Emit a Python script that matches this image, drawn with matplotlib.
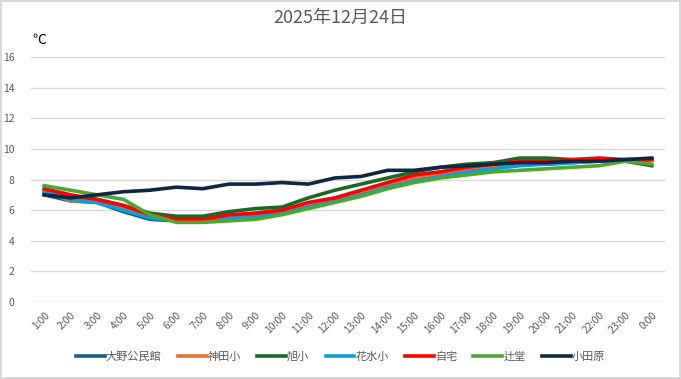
import matplotlib
matplotlib.use('Agg')
import matplotlib.pyplot as plt
import numpy as np

plt.rcParams['font.family'] = ['Noto Sans CJK JP', 'DejaVu Sans']

hours = ['1:00', '2:00', '3:00', '4:00', '5:00', '6:00', '7:00', '8:00', '9:00', '10:00',
         '11:00', '12:00', '13:00', '14:00', '15:00', '16:00', '17:00', '18:00', '19:00',
         '20:00', '21:00', '22:00', '23:00', '0:00']

ono = [7.0, 6.6, 6.5, 5.9, 5.4, 5.3, 5.3, 5.6, 5.7, 5.9, 6.3, 6.7, 7.1, 7.6, 8.0, 8.3,
       8.6, 8.8, 9.0, 9.0, 9.1, 9.2, 9.3, 9.3]
kanda = [7.3, 6.6, 6.6, 6.1, 5.6, 5.4, 5.4, 5.6, 5.8, 6.0, 6.4, 6.7, 7.2, 7.7, 8.1, 8.4,
         8.7, 8.9, 9.1, 9.2, 9.2, 9.3, 9.2, 9.3]
asahi = [7.2, 6.9, 6.7, 6.3, 5.8, 5.6, 5.6, 5.9, 6.1, 6.2, 6.8, 7.3, 7.7, 8.1, 8.5, 8.8,
         9.0, 9.1, 9.4, 9.4, 9.3, 9.3, 9.2, 8.9]
hanamizu = [7.2, 6.7, 6.5, 6.0, 5.5, 5.3, 5.3, 5.5, 5.6, 5.8, 6.2, 6.6, 7.0, 7.5, 7.9, 8.2,
            8.5, 8.7, 8.9, 9.0, 9.1, 9.2, 9.2, 9.3]
jitaku = [7.4, 7.0, 6.7, 6.3, 5.7, 5.4, 5.4, 5.7, 5.8, 6.0, 6.5, 6.8, 7.3, 7.8, 8.3, 8.5,
          8.8, 9.0, 9.2, 9.2, 9.3, 9.4, 9.3, 9.3]
tsujido = [7.6, 7.3, 7.0, 6.7, 5.7, 5.2, 5.2, 5.3, 5.4, 5.7, 6.1, 6.5, 6.9, 7.4, 7.8, 8.1,
           8.3, 8.5, 8.6, 8.7, 8.8, 8.9, 9.2, 9.0]
odawara = [7.0, 6.8, 7.0, 7.2, 7.3, 7.5, 7.4, 7.7, 7.7, 7.8, 7.7, 8.1, 8.2, 8.6, 8.6, 8.8,
           8.9, 9.0, 9.1, 9.1, 9.2, 9.2, 9.3, 9.4]

series = [
    ('大野公民館', ono, '#156082'),
    ('神田小', kanda, '#E97132'),
    ('旭小', asahi, '#196B24'),
    ('花水小', hanamizu, '#0F9ED5'),
    ('自宅', jitaku, '#FF0000'),
    ('辻堂', tsujido, '#4EA72E'),
    ('小田原', odawara, '#0E2841'),
]

fig = plt.figure(figsize=(6.81, 3.79), dpi=100)
fig.patch.set_edgecolor('#d9d9d9')
fig.patch.set_linewidth(1.5)
ax = fig.add_axes([31 / 681, 1 - 302 / 379, 634 / 681, 245 / 379])

x = np.arange(len(hours))
for name, vals, color in series:
    ax.plot(x, vals, color=color, lw=2.6, label=name, solid_joinstyle='round')

ax.set_xlim(-0.5, len(hours) - 0.5)
ax.set_ylim(0, 16)
ax.set_yticks(np.arange(0, 17, 2))
ax.set_xticks(x)
ax.set_xticklabels(hours, rotation=45, ha='right', rotation_mode='anchor', fontsize=7.5,
                   color='#595959')
ax.tick_params(axis='y', labelsize=7.5, labelcolor='#595959', length=0, pad=12)
ax.tick_params(axis='x', length=0, pad=6)
ax.grid(axis='y', color='#d9d9d9', lw=1)
ax.set_axisbelow(True)
for s in ax.spines.values():
    s.set_visible(False)

fig.text(0.5, 1 - 18 / 379, '2025年12月24日', ha='center', va='center', fontsize=13,
         color='#595959')
fig.text(32 / 681, 1 - 40 / 379, '℃', ha='left', va='center', fontsize=10, color='black')

fig.legend(loc='center', bbox_to_anchor=(0.5, 1 - 357 / 379), ncol=7, frameon=False,
           fontsize=8, labelcolor='#595959', handlelength=2.6, handletextpad=0.1,
           columnspacing=1.45)

fig.savefig('out.png', dpi=100)
